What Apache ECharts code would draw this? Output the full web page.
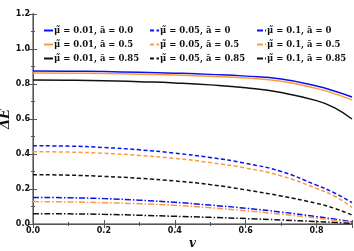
<!DOCTYPE html>
<html><head><meta charset="utf-8">
<script src="https://cdn.jsdelivr.net/npm/echarts@6/dist/echarts.min.js"></script>
<style>html,body{margin:0;padding:0;background:#fff}#c{width:354px;height:251px}</style>
</head><body><div id="c"></div>
<script>
const vValues = [0, 0.1, 0.2, 0.3, 0.4, 0.5, 0.6, 0.7, 0.8, 0.85, 0.9];
const mu001_a0   = [0.874, 0.873, 0.871, 0.867, 0.862, 0.855, 0.845, 0.828, 0.789, 0.760, 0.726];
const mu001_a05  = [0.863, 0.862, 0.860, 0.856, 0.851, 0.844, 0.834, 0.816, 0.775, 0.745, 0.709];
const mu001_a085 = [0.823, 0.822, 0.819, 0.813, 0.806, 0.795, 0.778, 0.751, 0.705, 0.665, 0.600];
const mu005_a0   = [0.447, 0.445, 0.437, 0.424, 0.405, 0.380, 0.347, 0.300, 0.222, 0.178, 0.122];
const mu005_a05  = [0.413, 0.411, 0.404, 0.392, 0.375, 0.351, 0.320, 0.275, 0.203, 0.160, 0.095];
const mu005_a085 = [0.282, 0.279, 0.272, 0.261, 0.246, 0.225, 0.195, 0.160, 0.118, 0.090, 0.051];
const mu01_a0    = [0.152, 0.150, 0.145, 0.136, 0.124, 0.108, 0.090, 0.068, 0.042, 0.028, 0.013];
const mu01_a05   = [0.128, 0.126, 0.122, 0.116, 0.107, 0.093, 0.076, 0.056, 0.034, 0.022, 0.009];
const mu01_a085  = [0.059, 0.058, 0.055, 0.050, 0.044, 0.038, 0.031, 0.023, 0.014, 0.009, 0.004];
const yTicks = [0, 0.2, 0.4, 0.6, 0.8, 1.0, 1.2];
const xTicks = [0, 0.2, 0.4, 0.6, 0.8];

const names = [
  '\u03BC\u0303 = 0.01, \u0101 = 0.0', '\u03BC\u0303 = 0.01, \u0101 = 0.5', '\u03BC\u0303 = 0.01, \u0101 = 0.85',
  '\u03BC\u0303 = 0.05, \u0101 = 0', '\u03BC\u0303 = 0.05, \u0101 = 0.5', '\u03BC\u0303 = 0.05, \u0101 = 0.85',
  '\u03BC\u0303 = 0.1, \u0101 = 0', '\u03BC\u0303 = 0.1, \u0101 = 0.5', '\u03BC\u0303 = 0.1, \u0101 = 0.85'
];
const datas = [mu001_a0, mu001_a05, mu001_a085, mu005_a0, mu005_a05, mu005_a085, mu01_a0, mu01_a05, mu01_a085];
const colors = ['#0a10f0', '#ff9a3c', '#111111'];
const types = ['solid', [4, 2.5], [6, 2, 1.5, 2]];

const series = datas.map((d, i) => ({
  name: names[i], type: 'line', showSymbol: false, symbol: 'none', smooth: true,
  data: d.map((y, k) => [vValues[k], y]),
  lineStyle: { color: colors[i % 3], width: 1.5, type: types[Math.floor(i / 3)] },
  itemStyle: { color: colors[i % 3] }
}));

const tickFont = { fontFamily: 'DejaVu Sans', fontWeight: 'bold', fontSize: 8, color: '#111' };
const legendBase = {
  orient: 'vertical', itemWidth: 9, itemHeight: 8, itemGap: 5,
  itemStyle: { opacity: 0 },
  textStyle: { fontFamily: 'DejaVu Serif', fontSize: 8.5, fontWeight: 'bold', color: '#111', padding: [0, 0, 0, -4] },
  padding: 0
};
const chart = echarts.init(document.getElementById('c'));
chart.setOption({
  animation: false,
  grid: { left: 33, right: 2, top: 14, bottom: 27, containLabel: false, outerBoundsMode: 'none' },
  legend: [
    Object.assign({}, legendBase, { left: 43, top: 26, data: names.slice(0, 3) }),
    Object.assign({}, legendBase, { left: 149, top: 26, data: names.slice(3, 6) }),
    Object.assign({}, legendBase, { left: 256, top: 26, data: names.slice(6, 9) })
  ],
  xAxis: [{
    type: 'value', min: 0, max: 0.9, interval: 0.2,
    name: 'v', nameLocation: 'middle', nameGap: 14, nameMoveOverlap: false,
    nameTextStyle: { fontFamily: 'DejaVu Serif', fontStyle: 'italic', fontWeight: 'bold', fontSize: 12, color: '#111' },
    axisLine: { lineStyle: { color: '#999', width: 2 } },
    axisTick: { inside: true, length: 4, lineStyle: { color: '#555' } },
    minorTick: { show: true, splitNumber: 2, length: 2, lineStyle: { color: '#555' } },
    axisLabel: Object.assign({ margin: 3, formatter: v => xTicks.indexOf(v) >= 0 ? v.toFixed(1) : '' }, tickFont),
    splitLine: { show: false }
  }, {
    type: 'value', position: 'top', min: 0, max: 0.9, interval: 0.2,
    axisLine: { lineStyle: { color: '#555', width: 1 } },
    axisTick: { inside: true, length: 4, lineStyle: { color: '#555' } },
    minorTick: { show: true, splitNumber: 2, length: 2, lineStyle: { color: '#555' } },
    axisLabel: { show: false }, splitLine: { show: false }
  }],
  yAxis: [{
    type: 'value', min: 0, max: 1.2, interval: 0.2,
    name: '\u0394\u0116', nameLocation: 'middle', nameGap: 21, nameRotate: 90, nameMoveOverlap: false,
    nameTextStyle: { fontFamily: 'DejaVu Serif', fontStyle: 'italic', fontWeight: 'bold', fontSize: 13, color: '#111' },
    axisLine: { lineStyle: { color: '#999', width: 2 } },
    axisTick: { inside: true, length: 4, lineStyle: { color: '#555' } },
    minorTick: { show: true, splitNumber: 2, length: 2, lineStyle: { color: '#555' } },
    axisLabel: Object.assign({ margin: 3, formatter: v => yTicks.some(t => Math.abs(t - v) < 1e-9) ? v.toFixed(1) : '' }, tickFont),
    splitLine: { show: false }
  }, {
    type: 'value', position: 'right', min: 0, max: 1.2, interval: 0.2,
    axisLine: { show: true, lineStyle: { color: '#555', width: 1 } },
    axisTick: { show: true, inside: true, length: 4, lineStyle: { color: '#555' } },
    minorTick: { show: true, splitNumber: 2, length: 2, lineStyle: { color: '#555' } },
    axisLabel: { show: false }, splitLine: { show: false }
  }],
  series: series
});
</script></body></html>
